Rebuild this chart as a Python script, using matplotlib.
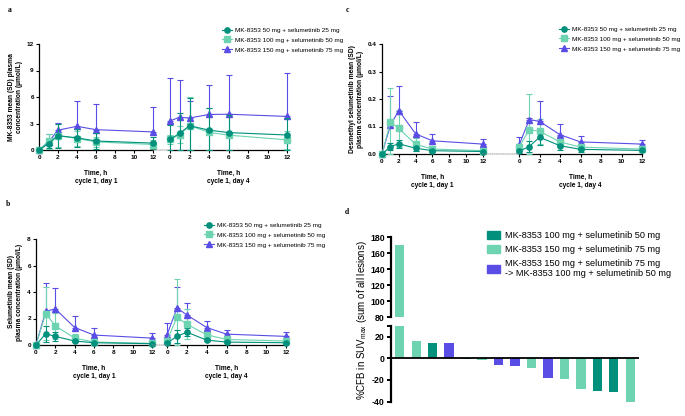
import numpy as np
import matplotlib
matplotlib.use("Agg")
import matplotlib.pyplot as plt
from matplotlib.lines import Line2D
from matplotlib.patches import ConnectionPatch, Patch

plt.rcParams['font.family'] = ['Liberation Sans', 'DejaVu Sans']
plt.rcParams['mathtext.fontset'] = 'custom'
plt.rcParams['mathtext.rm'] = 'Liberation Sans'

# ---- data ----
times = [0, 1, 2, 4, 6, 12]
doses = ['MK-8353 50 mg + selumetinib 25 mg',
         'MK-8353 100 mg + selumetinib 50 mg',
         'MK-8353 150 mg + selumetinib 75 mg']

# panel a: MK-8353 (rows = 50/100/150 mg)
a_d1_mean = np.array([[0, 0.72, 1.62, 1.38, 1.02, 0.78],
                      [0, 1.0, 1.62, 1.3, 0.92, 0.62],
                      [0, 0.9, 2.25, 2.68, 2.3, 2.05]])
a_d1_sd = np.array([[0, 0.5, 1.35, 1.0, 0.9, 0.7],
                    [0, 0.85, 1.3, 0.9, 0.6, 0.5],
                    [0, 0.9, 0.85, 2.9, 2.9, 2.85]])
a_d4_mean = np.array([[1.2, 1.9, 2.75, 2.25, 1.97, 1.7],
                      [1.2, 1.75, 2.75, 2.0, 1.68, 1.15],
                      [3.3, 3.7, 3.62, 4.02, 4.05, 3.8]])
a_d4_sd = np.array([[1.6, 2.3, 3.1, 2.5, 2.0, 1.9],
                    [0.5, 1.0, 3.3, 2.7, 2.4, 1.0],
                    [4.9, 4.2, 1.9, 3.3, 4.45, 4.9]])

# panel b: selumetinib
b_d1_mean = np.array([[0, 0.85, 0.65, 0.3, 0.17, 0.1],
                      [0, 2.37, 1.45, 0.52, 0.22, 0.12],
                      [0, 2.55, 2.72, 1.32, 0.75, 0.52]])
b_d1_sd = np.array([[0, 0.6, 0.35, 0.1, 0.06, 0.04],
                    [0, 2.0, 1.0, 0.3, 0.1, 0.05],
                    [0, 2.15, 1.58, 0.88, 0.55, 0.42]])
b_d4_mean = np.array([[0.15, 0.65, 0.97, 0.37, 0.22, 0.17],
                      [0.3, 2.1, 1.57, 0.77, 0.42, 0.3],
                      [0.75, 2.8, 2.27, 1.32, 0.82, 0.65]])
b_d4_sd = np.array([[0.1, 0.5, 0.28, 0.1, 0.06, 0.05],
                    [0.2, 2.9, 1.13, 0.2, 0.1, 0.08],
                    [0.9, 1.6, 0.88, 0.48, 0.33, 0.3]])

# panel c: desmethyl selumetinib
c_d1_mean = np.array([[0, 0.027, 0.037, 0.021, 0.012, 0.009],
                      [0, 0.116, 0.093, 0.035, 0.018, 0.012],
                      [0, 0.105, 0.158, 0.073, 0.048, 0.036]])
c_d1_sd = np.array([[0, 0.013, 0.015, 0.01, 0.005, 0.004],
                    [0, 0.124, 0.067, 0.025, 0.01, 0.006],
                    [0, 0.107, 0.088, 0.042, 0.024, 0.02]])
c_d4_mean = np.array([[0.01, 0.027, 0.061, 0.03, 0.017, 0.013],
                      [0.025, 0.088, 0.083, 0.044, 0.025, 0.018],
                      [0.032, 0.125, 0.119, 0.07, 0.044, 0.036]])
c_d4_sd = np.array([[0.005, 0.02, 0.029, 0.016, 0.008, 0.006],
                    [0.012, 0.13, 0.045, 0.02, 0.01, 0.008],
                    [0.03, 0.005, 0.073, 0.038, 0.021, 0.016]])

# panel d: waterfall of %CFB in SUVmax
cfb_values = [170, 16, 14, 14, -1, -1.5, -6.2, -6.8, -8.6, -17.8, -19, -28.3, -30.4, -30.7, -40]
cfb_groups = [1, 1, 0, 2, 0, 1, 2, 2, 1, 2, 1, 1, 0, 0, 1]
d_labels = ['MK-8353 100 mg + selumetinib 50 mg',
            'MK-8353 150 mg + selumetinib 75 mg',
            'MK-8353 150 mg + selumetinib 75 mg\n-> MK-8353 100 mg + selumetinib 50 mg']

colors = ['#00907c', '#6dd3b0', '#5a4de6']
markers = ['o', 's', '^']

W, H = 685, 416
fig = plt.figure(figsize=(W / 100, H / 100), dpi=100)


def rect(x0, y0, x1, y1):
    return [x0 / W, 1 - y1 / H, (x1 - x0) / W, (y1 - y0) / H]


def pk_panel(r1, r2, d1m, d1s, d4m, d4s, yticks, ylab, yfmt, leg_xy):
    ax1 = fig.add_axes(rect(*r1))
    ax2 = fig.add_axes(rect(*r2))
    for ax, m, s, lab in [(ax1, d1m, d1s, 'cycle 1, day 1'), (ax2, d4m, d4s, 'cycle 1, day 4')]:
        for i in range(3):
            lo = np.minimum(s[i], m[i]) if i < 2 else np.zeros(len(times))
            ax.errorbar(times, m[i], yerr=[lo, s[i]], color=colors[i], lw=0.8,
                        marker=markers[i], ms=3.8, capsize=2.2, elinewidth=0.8,
                        capthick=0.8, clip_on=False, zorder=3 - i * 0.1)
        ax.set_xlim(0, 12)
        ax.set_ylim(yticks[0], yticks[-1])
        ax.set_xticks(range(0, 13, 2))
        ax.tick_params(labelsize=4.6, length=2.2, width=0.8, pad=1.5)
        for t in ax.get_xticklabels() + ax.get_yticklabels():
            t.set_fontweight('bold')
        for sp in ['top', 'right']:
            ax.spines[sp].set_visible(False)
        for sp in ['left', 'bottom']:
            ax.spines[sp].set_linewidth(0.9)
        ax.set_xlabel('Time, h\n' + lab, fontsize=4.8, fontweight='bold', labelpad=7)
        ax.patch.set_alpha(0)
    ax1.set_yticks(yticks)
    ax1.set_yticklabels([yfmt.format(v) for v in yticks])
    ax1.set_ylabel(ylab, fontsize=4.8, fontweight='bold', labelpad=3)
    ax2.spines['left'].set_visible(False)
    ax2.set_yticks([])
    con = ConnectionPatch(xyA=(12, 0), coordsA=ax1.transData, xyB=(0, 0), coordsB=ax2.transData,
                          ls=(0, (1, 1.2)), color='#888888', lw=0.6)
    fig.add_artist(con)
    handles = [Line2D([], [], color=colors[i], marker=markers[i], ms=3.8, lw=0.8) for i in range(3)]
    fig.legend(handles, doses, loc='center left', bbox_to_anchor=(leg_xy[0] / W, 1 - leg_xy[1] / H),
               frameon=False, fontsize=4.6, handlelength=1.6, handletextpad=0.5,
               labelspacing=0.7, borderpad=0, borderaxespad=0)
    return ax1, ax2


pk_panel((39, 44, 153, 150), (170, 44, 287, 150), a_d1_mean, a_d1_sd, a_d4_mean, a_d4_sd,
         [0, 3, 6, 9, 12], 'MK-8353 mean (SD) plasma\nconcentration (\u00b5mol/L)', '{:g}', (222, 40))
pk_panel((36, 239, 152, 345), (167, 239, 286, 345), b_d1_mean, b_d1_sd, b_d4_mean, b_d4_sd,
         [0, 2, 4, 6, 8], 'Selumetinib mean (SD)\nplasma concentration (\u00b5mol/L)', '{:g}', (204, 235))
pk_panel((382, 44, 483, 154), (519, 44, 642, 154), c_d1_mean, c_d1_sd, c_d4_mean, c_d4_sd,
         [0, 0.1, 0.2, 0.3, 0.4], 'Desmethyl selumetinib mean (SD)\nplasma concentration (\u00b5mol/L)',
         '{:.1f}', (559, 39))

# ---- panel d ----
axu = fig.add_axes(rect(391, 237.3, 639, 317.3))
axl = fig.add_axes(rect(391, 325.7, 639, 401.7))
x = np.arange(len(cfb_values))
bar_cols = [colors[g] for g in cfb_groups]
for ax in (axu, axl):
    ax.bar(x, cfb_values, width=0.57, color=bar_cols, zorder=2)
    ax.set_xlim(-0.53, len(cfb_values) - 0.47)
    ax.set_xticks([])
    for sp in ['top', 'right', 'bottom']:
        ax.spines[sp].set_visible(False)
    ax.spines['left'].set_linewidth(1.6)
    ax.tick_params(axis='y', labelsize=6.3, length=3, width=1.4, pad=1.5)
    ax.patch.set_alpha(0)
axu.set_ylim(80, 180)
axu.set_yticks(range(80, 181, 20))
axl.set_ylim(-40, 30)
axl.set_yticks([-40, -20, 0, 20, 30])
axl.set_yticklabels(['-40', '-20', '0', '20', ''])
for t in axl.get_yticklabels() + axu.get_yticklabels():
    t.set_fontweight('bold')
axl.axhline(0, color='black', lw=1.3, zorder=3)
fig.text(362 / W, 1 - 320 / H, '%CFB in SUV$_{\\mathregular{max}}$ (sum of all lesions)',
         rotation=90, ha='center', va='center', fontsize=7)
dh = [Patch(color=c) for c in colors]
fig.legend(dh, d_labels, loc='upper left', bbox_to_anchor=(487 / W, 1 - 231 / H), frameon=False,
           fontsize=6.6, handlelength=1.4, handleheight=1.0, handletextpad=0.6, labelspacing=0.5,
           borderpad=0, borderaxespad=0)

for lab, px, py in [('a', 10, 10), ('b', 8, 204), ('c', 347, 10), ('d', 347, 212)]:
    fig.text(px / W, 1 - py / H, lab, fontsize=5.5, fontweight='bold', family='Liberation Serif',
             ha='center', va='center')

fig.savefig('out.png', dpi=100)
